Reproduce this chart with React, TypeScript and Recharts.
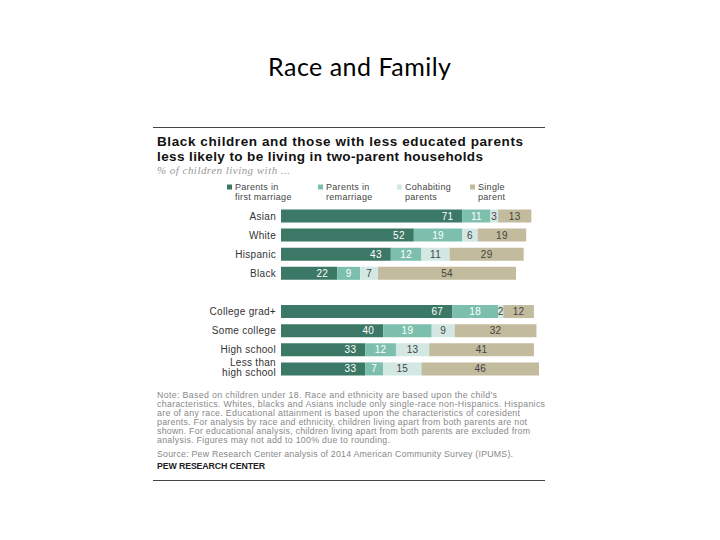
import React from 'react';
import { BarChart, Bar, XAxis, YAxis, LabelList } from 'recharts';

const categories = ['Asian', 'White', 'Hispanic', 'Black', '', 'College grad+', 'Some college', 'High school', 'Less than high school'];
const firstMarriage = [71, 52, 43, 22, null, 67, 40, 33, 33];
const remarriage = [11, 19, 12, 9, null, 18, 19, 12, 7];
const cohabiting = [3, 6, 11, 7, null, 2, 9, 13, 15];
const singleParent = [13, 19, 29, 54, null, 12, 32, 41, 46];

const seriesNames = ['Parents in first marriage', 'Parents in remarriage', 'Cohabiting parents', 'Single parent'];
const legendLines = [['Parents in', 'first marriage'], ['Parents in', 'remarriage'], ['Cohabiting', 'parents'], ['Single', 'parent']];

const noteLines = [
  "Note: Based on children under 18. Race and ethnicity are based upon the child's",
  'characteristics. Whites, blacks and Asians include only single-race non-Hispanics. Hispanics',
  'are of any race. Educational attainment is based upon the characteristics of coresident',
  'parents. For analysis by race and ethnicity, children living apart from both parents are not',
  'shown. For educational analysis, children living apart from both parents are excluded from',
  'analysis. Figures may not add to 100% due to rounding.',
];
// widths of the note lines
const noteWidths = [340, 388, 363, 370, 373, 233];
const sourceLine = 'Source: Pew Research Center analysis of 2014 American Community Survey (IPUMS).';

const COLORS = ['#3b7866', '#7dbfad', '#d3e7e3', '#c3bb9d'];
const LABEL_COLORS = ['#ffffff', '#ffffff', '#444444', '#444444'];
const FONT = '"Liberation Sans", Arial, sans-serif';

const data = categories.map((name, i) => ({
  name,
  first: firstMarriage[i],
  re: remarriage[i],
  cohab: cohabiting[i],
  single: singleParent[i],
}));
const keys = ['first', 're', 'cohab', 'single'];

const CategoryTick = (props: any) => {
  const { x, y, payload } = props;
  const v: string = payload.value;
  if (!v) return null;
  if (v === 'Less than high school') {
    return (
      <text x={x + 3} y={y} textAnchor="end" fontSize={10} letterSpacing={0.3} fill="#333" fontFamily={FONT}>
        <tspan x={x + 3} dy={-3}>Less than</tspan>
        <tspan x={x + 3} dy={10.5}>high school</tspan>
      </text>
    );
  }
  return (
    <text x={x + 3} y={y + 3.5} textAnchor="end" fontSize={10} letterSpacing={0.3} fill="#333" fontFamily={FONT}>
      {v}
    </text>
  );
};

const makeLabel = (idx: number) => (props: any) => {
  const { x, y, width, height, value } = props;
  if (value === null || value === undefined) return null;
  const tx = idx === 0 ? x + width - 9 : x + width / 2;
  return (
    <text
      x={tx}
      y={y + height / 2 + 3.5}
      textAnchor={idx === 0 ? 'end' : 'middle'}
      fontSize={10}
      letterSpacing={0.3}
      fill={LABEL_COLORS[idx]}
      fontFamily={FONT}
    >
      {value}
    </text>
  );
};

const App: React.FC = () => {
  const legendX = [227, 318, 397, 470];
  return (
    <div style={{ position: 'fixed', left: 0, top: 0, width: 720, height: 540, background: '#fff' }}>
      <svg width={720} height={540} style={{ position: 'absolute', left: 0, top: 0 }}>
        <text x={268} y={76} fontSize={25} textLength={183} fill="#000" fontFamily="Lato, 'Open Sans', sans-serif">
          Race and Family
        </text>
        <line x1={153} x2={545} y1={127.5} y2={127.5} stroke="#444" strokeWidth={1} />
        <text x={157} y={146} fontSize={13.5} textLength={366} fontWeight="bold" fill="#111" fontFamily={FONT}>
          Black children and those with less educated parents
        </text>
        <text x={157} y={160.5} fontSize={13.5} textLength={326} fontWeight="bold" fill="#111" fontFamily={FONT}>
          less likely to be living in two-parent households
        </text>
        <text x={157} y={174} fontSize={11} textLength={133} fontStyle="italic" fill="#999" fontFamily="'Liberation Serif', serif">
          % of children living with ...
        </text>
        {seriesNames.map((s, i) => (
          <g key={s}>
            <rect x={legendX[i]} y={184.5} width={5} height={5} fill={COLORS[i]} />
            <text x={legendX[i] + 8} y={189.5} fontSize={9} letterSpacing={0.3} fill="#444" fontFamily={FONT}>
              {legendLines[i][0]}
            </text>
            <text x={legendX[i] + 8} y={200} fontSize={9} letterSpacing={0.3} fill="#444" fontFamily={FONT}>
              {legendLines[i][1]}
            </text>
          </g>
        ))}
        {noteLines.map((l, i) => (
          <text key={i} x={157} y={398 + i * 9} fontSize={8.8} textLength={noteWidths[i]} fill="#888" fontFamily={FONT}>
            {l}
          </text>
        ))}
        <text x={157} y={457} fontSize={8.8} textLength={356} fill="#888" fontFamily={FONT}>
          {sourceLine}
        </text>
        <text x={157} y={469} fontSize={8.8} textLength={108} fontWeight="bold" fill="#222" fontFamily={FONT}>
          PEW RESEARCH CENTER
        </text>
        <line x1={153} x2={545} y1={480.5} y2={480.5} stroke="#444" strokeWidth={1} />
      </svg>
      <div style={{ position: 'absolute', left: 150, top: 200 }}>
        <BarChart
          width={400}
          height={190}
          data={data}
          layout="vertical"
          margin={{ top: 6.5, right: 11, bottom: 11.5, left: 6 }}
          barSize={13}
        >
          <XAxis type="number" domain={[0, 100]} hide />
          <YAxis
            type="category"
            dataKey="name"
            width={125}
            axisLine={false}
            tickLine={false}
            interval={0}
            tick={<CategoryTick />}
          />
          {keys.map((k, i) => (
            <Bar key={k} dataKey={k} name={seriesNames[i]} stackId="a" fill={COLORS[i]} isAnimationActive={false}>
              <LabelList dataKey={k} content={makeLabel(i)} />
            </Bar>
          ))}
        </BarChart>
      </div>
    </div>
  );
};

export default App;
